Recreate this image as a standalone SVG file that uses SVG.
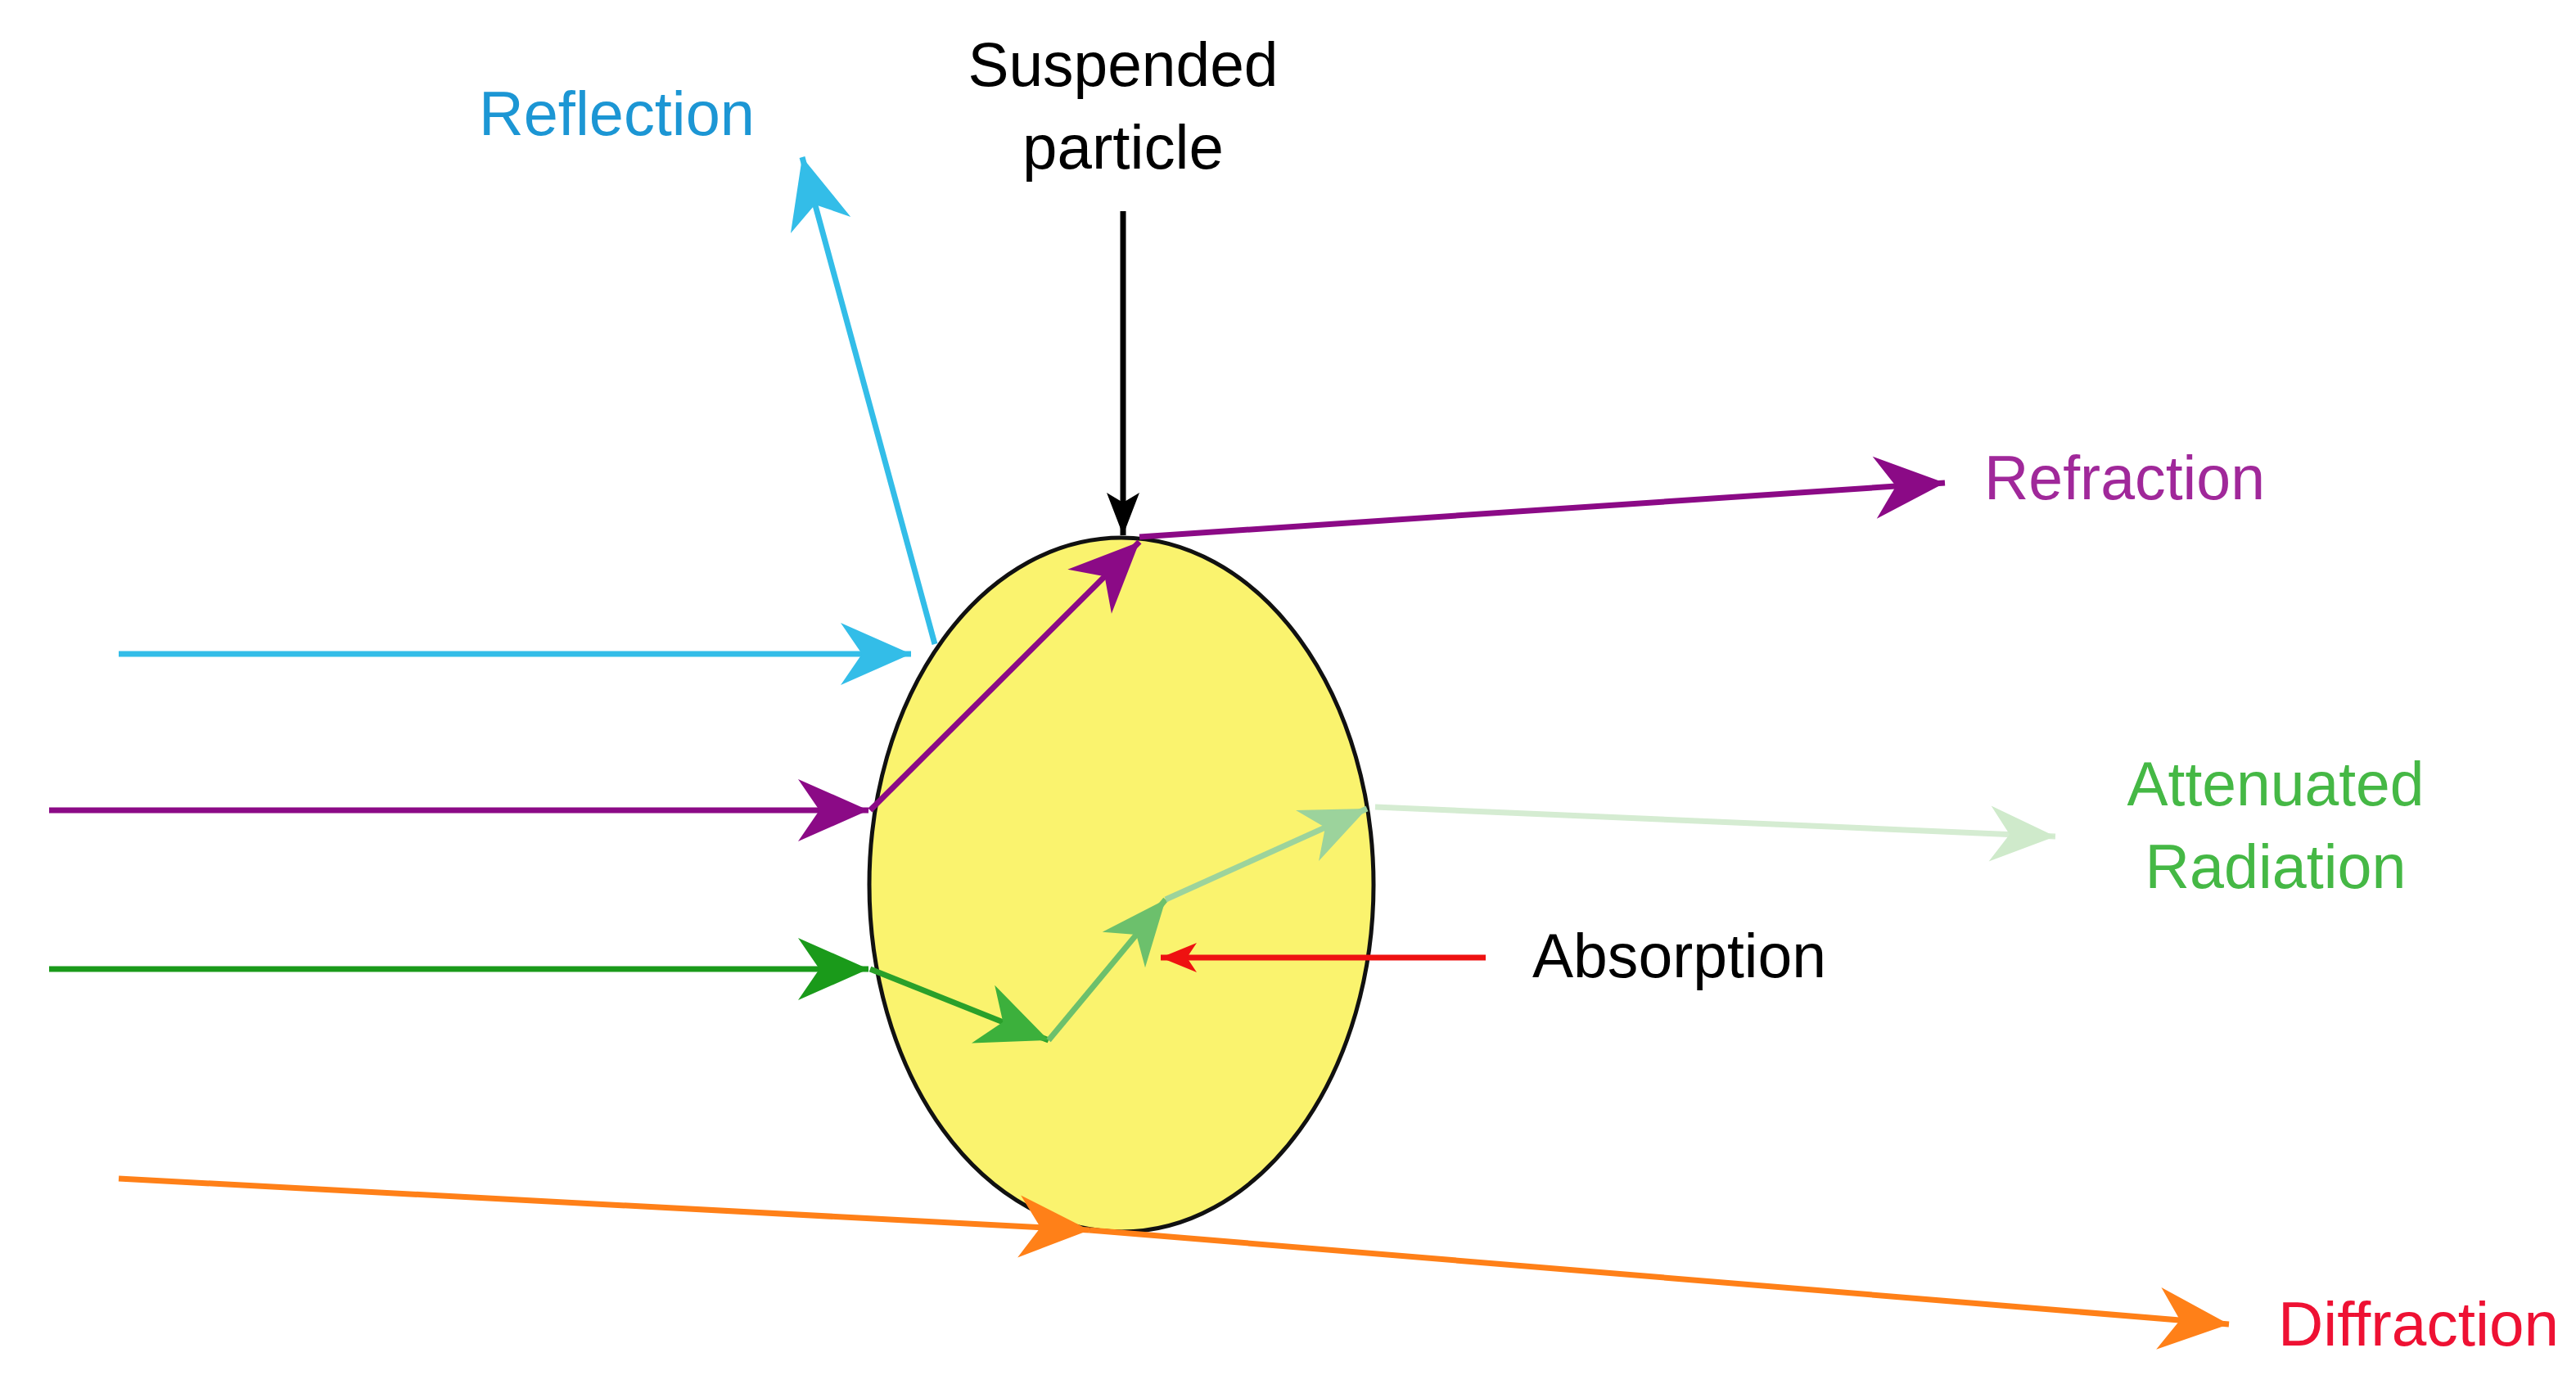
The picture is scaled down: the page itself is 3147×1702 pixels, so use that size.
<svg xmlns="http://www.w3.org/2000/svg" width="3147" height="1702" viewBox="0 0 3147 1702">
<style>
text{font-family:"Liberation Sans",Arial,sans-serif;font-size:76px}
.ln{fill:none;stroke-width:7}
</style>
<defs>
<marker id="mBlack" markerUnits="userSpaceOnUse" markerWidth="105" markerHeight="100" viewBox="-100 -50 105 100" refX="0" refY="0" orient="auto"><path d="M0,0 L-52,-20 L-40,0 L-52,20 Z" fill="#000"/></marker>
<marker id="mCyan" markerUnits="userSpaceOnUse" markerWidth="105" markerHeight="100" viewBox="-100 -50 105 100" refX="0" refY="0" orient="auto"><path d="M0,0 L-86,-38 L-60,0 L-86,38 Z" fill="#33bde8"/></marker>
<marker id="mPurple" markerUnits="userSpaceOnUse" markerWidth="105" markerHeight="100" viewBox="-100 -50 105 100" refX="0" refY="0" orient="auto"><path d="M0,0 L-86,-38 L-60,0 L-86,38 Z" fill="#8b0a86"/></marker>
<marker id="mGreen" markerUnits="userSpaceOnUse" markerWidth="105" markerHeight="100" viewBox="-100 -50 105 100" refX="0" refY="0" orient="auto"><path d="M0,0 L-86,-38 L-60,0 L-86,38 Z" fill="#1a9a1a"/></marker>
<marker id="mGreen2" markerUnits="userSpaceOnUse" markerWidth="105" markerHeight="100" viewBox="-100 -50 105 100" refX="0" refY="0" orient="auto"><path d="M0,0 L-86,-38 L-60,0 L-86,38 Z" fill="#3cb03c"/></marker>
<marker id="mGreen3" markerUnits="userSpaceOnUse" markerWidth="105" markerHeight="100" viewBox="-100 -50 105 100" refX="0" refY="0" orient="auto"><path d="M0,0 L-80,-34 L-56,0 L-80,34 Z" fill="#6cc06c"/></marker>
<marker id="mGreen4" markerUnits="userSpaceOnUse" markerWidth="105" markerHeight="100" viewBox="-100 -50 105 100" refX="0" refY="0" orient="auto"><path d="M0,0 L-80,-34 L-56,0 L-80,34 Z" fill="#9cd39c"/></marker>
<marker id="mGreen5" markerUnits="userSpaceOnUse" markerWidth="105" markerHeight="100" viewBox="-100 -50 105 100" refX="0" refY="0" orient="auto"><path d="M0,0 L-80,-34 L-56,0 L-80,34 Z" fill="#cfeacb"/></marker>
<marker id="mRed" markerUnits="userSpaceOnUse" markerWidth="105" markerHeight="100" viewBox="-100 -50 105 100" refX="0" refY="0" orient="auto"><path d="M0,0 L-44,-18 L-32,0 L-44,18 Z" fill="#ee1111"/></marker>
<marker id="mOrange" markerUnits="userSpaceOnUse" markerWidth="105" markerHeight="100" viewBox="-100 -50 105 100" refX="0" refY="0" orient="auto"><path d="M0,0 L-86,-38 L-60,0 L-86,38 Z" fill="#ff8018"/></marker>
</defs>
<rect width="3147" height="1702" fill="#fff"/>
<g id="particle">
<ellipse cx="1370" cy="1081" rx="308" ry="424" fill="#faf36e" stroke="#111" stroke-width="5"/>
</g>
<g id="connectors">
<line class="ln" x1="1372" y1="258" x2="1372" y2="654" stroke="#000" stroke-width="5" marker-end="url(#mBlack)"/>
<line class="ln" x1="145" y1="799" x2="1113" y2="799" stroke="#33bde8" marker-end="url(#mCyan)"/>
<line class="ln" x1="1142" y1="787" x2="980" y2="192" stroke="#33bde8" stroke-width="6" marker-end="url(#mCyan)"/>
<line class="ln" x1="60" y1="990" x2="1061" y2="990" stroke="#8b0a86" marker-end="url(#mPurple)"/>
<line class="ln" x1="1063" y1="990" x2="1392" y2="662" stroke="#8b0a86" marker-end="url(#mPurple)"/>
<line class="ln" x1="1392" y1="656" x2="2376" y2="590" stroke="#8b0a86" marker-end="url(#mPurple)"/>
<line class="ln" x1="60" y1="1184" x2="1061" y2="1184" stroke="#1a9a1a" marker-end="url(#mGreen)"/>
<line class="ln" x1="1063" y1="1184" x2="1281" y2="1271" stroke="#2aa02a" marker-end="url(#mGreen2)"/>
<line class="ln" x1="1281" y1="1271" x2="1424" y2="1099" stroke="#6cc06c" stroke-width="6" marker-end="url(#mGreen3)"/>
<line class="ln" x1="1424" y1="1099" x2="1670" y2="988" stroke="#9cd39c" stroke-width="6" marker-end="url(#mGreen4)"/>
<line class="ln" x1="1680" y1="986" x2="2511" y2="1022" stroke="#d5ecd2" stroke-width="5" marker-end="url(#mGreen5)"/>
<line class="ln" x1="1815" y1="1170" x2="1418" y2="1170" stroke="#ee1111" stroke-width="6" marker-end="url(#mRed)"/>
<line class="ln" x1="145" y1="1440" x2="1331" y2="1503" stroke="#ff8018" marker-end="url(#mOrange)"/>
<line class="ln" x1="1331" y1="1503" x2="2723" y2="1618" stroke="#ff8018" marker-end="url(#mOrange)"/>
</g>
<g id="labels">
<text x="585" y="165" fill="#1c96d4" textLength="337" lengthAdjust="spacingAndGlyphs">Reflection</text>
<text x="1372" y="105" fill="#000" text-anchor="middle" textLength="379" lengthAdjust="spacingAndGlyphs">Suspended</text>
<text x="1372" y="206" fill="#000" text-anchor="middle" textLength="246" lengthAdjust="spacingAndGlyphs">particle</text>
<text x="2424" y="610" fill="#a0289a" textLength="343" lengthAdjust="spacingAndGlyphs">Refraction</text>
<text x="2780" y="984" fill="#45b845" text-anchor="middle" textLength="363" lengthAdjust="spacingAndGlyphs">Attenuated</text>
<text x="2780" y="1085" fill="#45b845" text-anchor="middle" textLength="319" lengthAdjust="spacingAndGlyphs">Radiation</text>
<text x="1872" y="1194" fill="#000" textLength="359" lengthAdjust="spacingAndGlyphs">Absorption</text>
<text x="2783" y="1644" fill="#ee1133" textLength="343" lengthAdjust="spacingAndGlyphs">Diffraction</text>
</g>
</svg>
